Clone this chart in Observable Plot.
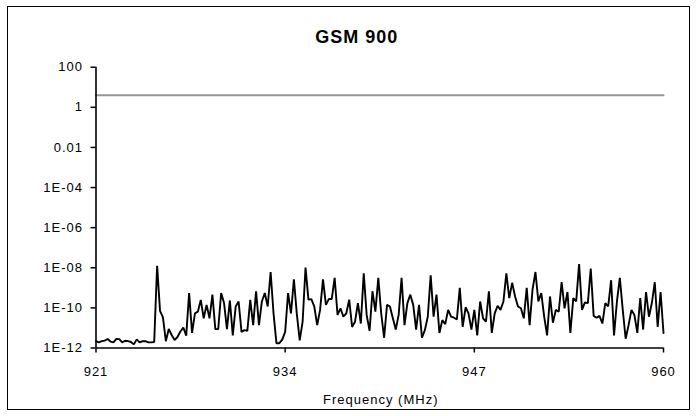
<!DOCTYPE html>
<html>
<head>
<meta charset="utf-8">
<script src="https://cdn.jsdelivr.net/npm/d3@7"></script>
<script src="https://cdn.jsdelivr.net/npm/@observablehq/plot@0.6"></script>
<style>
  html, body { margin: 0; padding: 0; background: #fff; }
  #wrap { position: relative; width: 698px; height: 416px; overflow: hidden; }
  #border { position: absolute; left: 7px; top: 6px; width: 683px; height: 404px; box-sizing: border-box; border: 1px solid #000; pointer-events: none; }
  #wrap svg { position: absolute; left: 0; top: 0; }
  #wrap svg text { letter-spacing: 1px; }
</style>
</head>
<body>
<div id="wrap"><div id="border"></div></div>
<script>
// ---- data ----
const titleText = "GSM 900";
const xLabel = "Frequency (MHz)";
const freqStart = 921;
const channelStep = 0.2; // MHz (GSM channel spacing)
const xTicks = [921, 934, 947, 960];
const yTicks = [100, 1, 0.01, 1e-4, 1e-6, 1e-8, 1e-10, 1e-12];
const yTickLabels = ["100", "1", "0.01", "1E-04", "1E-06", "1E-08", "1E-10", "1E-12"];
// limit line
const limitFreq = [921, 960];
const limitValue = [4, 4];
const levelLog10 = [
  -11.66, -11.72, -11.66, -11.63, -11.55, -11.68, -11.72, -11.55, -11.56, -11.72,
  -11.64, -11.66, -11.70, -11.82, -11.57, -11.72, -11.66, -11.66, -11.72, -11.72,
  -11.70, -7.90, -10.15, -10.47, -11.66, -11.05, -11.35, -11.60, -11.45, -11.18,
  -10.98, -11.38, -9.26, -11.25, -10.27, -10.19, -9.60, -10.52, -9.85, -10.52,
  -9.34, -11.06, -11.06, -9.26, -9.76, -11.06, -9.63, -11.37, -9.93, -9.68,
  -11.20, -11.11, -11.15, -9.60, -10.86, -9.17, -10.86, -9.68, -9.26, -9.93,
  -8.21, -10.27, -11.76, -11.76, -11.58, -11.20, -9.26, -10.27, -8.58, -10.30,
  -11.62, -10.69, -7.99, -9.59, -9.56, -9.93, -10.86, -10.10, -8.58, -9.85,
  -9.56, -9.56, -8.50, -10.35, -10.02, -10.44, -10.27, -9.59, -10.95, -10.69,
  -9.76, -10.78, -8.28, -10.35, -11.15, -9.17, -10.19, -8.50, -10.27, -11.49,
  -9.85, -9.93, -10.52, -11.08, -10.35, -8.50, -10.86, -9.76, -9.34, -9.85,
  -11.08, -9.85, -11.49, -11.11, -10.44, -8.38, -10.44, -9.34, -11.25, -10.61,
  -10.81, -10.10, -10.44, -10.49, -10.57, -9.00, -10.95, -9.97, -10.27, -11.08,
  -10.10, -11.37, -9.68, -10.52, -10.69, -9.17, -11.25, -10.27, -9.90, -10.10,
  -9.68, -8.28, -9.51, -8.75, -9.43, -9.93, -10.02, -10.52, -9.00, -10.86,
  -9.09, -8.21, -9.68, -9.26, -10.44, -11.37, -9.43, -10.74, -10.10, -10.19,
  -8.72, -10.02, -9.21, -11.25, -9.51, -9.68, -7.82, -10.10, -9.73, -9.76,
  -8.04, -10.40, -10.49, -10.40, -10.78, -9.76, -9.93, -8.62, -11.37, -9.68,
  -8.50, -10.10, -11.54, -10.86, -10.10, -10.35, -11.25, -9.51, -11.08, -9.21,
  -10.44, -9.76, -8.72, -10.95, -9.21, -11.25
];

const series = levelLog10.map((e, i) => ({freq: +(freqStart + channelStep * i).toFixed(1), value: Math.pow(10, e)}));
const limit = limitFreq.map((f, i) => ({freq: f, value: limitValue[i]}));
const yFormat = d => yTickLabels[yTicks.indexOf(d)];

const chart = Plot.plot({
  width: 698,
  height: 416,
  marginLeft: 95.5,
  marginRight: 35,
  marginTop: 66.7,
  marginBottom: 68.5,
  style: {fontFamily: "'Liberation Sans', Arial, sans-serif", fontSize: "13px", background: "transparent", overflow: "visible"},
  x: {domain: [921, 960], label: null},
  y: {type: "log", domain: [1e-12, 100], label: null},
  marks: [
    Plot.axisX({ticks: xTicks, tickSize: 5, tickPadding: 14, tickFormat: d => String(d), strokeWidth: 1.5, label: null, fontSize: 13}),
    Plot.axisY({ticks: yTicks, tickSize: 5, tickPadding: 8, tickFormat: yFormat, strokeWidth: 1.5, label: null, fontSize: 13}),
    Plot.line(limit, {x: "freq", y: "value", stroke: "#969696", strokeWidth: 2}),
    Plot.line(series, {x: "freq", y: "value", stroke: "#000", strokeWidth: 1.9, strokeLinejoin: "miter"}),
    Plot.ruleX([921], {stroke: "#000", strokeWidth: 1.6}),
    Plot.ruleY([1e-12], {stroke: "#000", strokeWidth: 1.6}),
    Plot.text([titleText], {text: d => d, frameAnchor: "top", dx: -23, dy: -29.5, lineAnchor: "middle", fontSize: 18, fontWeight: "bold", fill: "#000"}),
    Plot.text([xLabel], {text: d => d, frameAnchor: "bottom", dx: 1, dy: 51.5, lineAnchor: "middle", fontSize: 13, fill: "#000"})
  ]
});
document.getElementById("wrap").insertBefore(chart, document.getElementById("border"));
</script>
</body>
</html>
